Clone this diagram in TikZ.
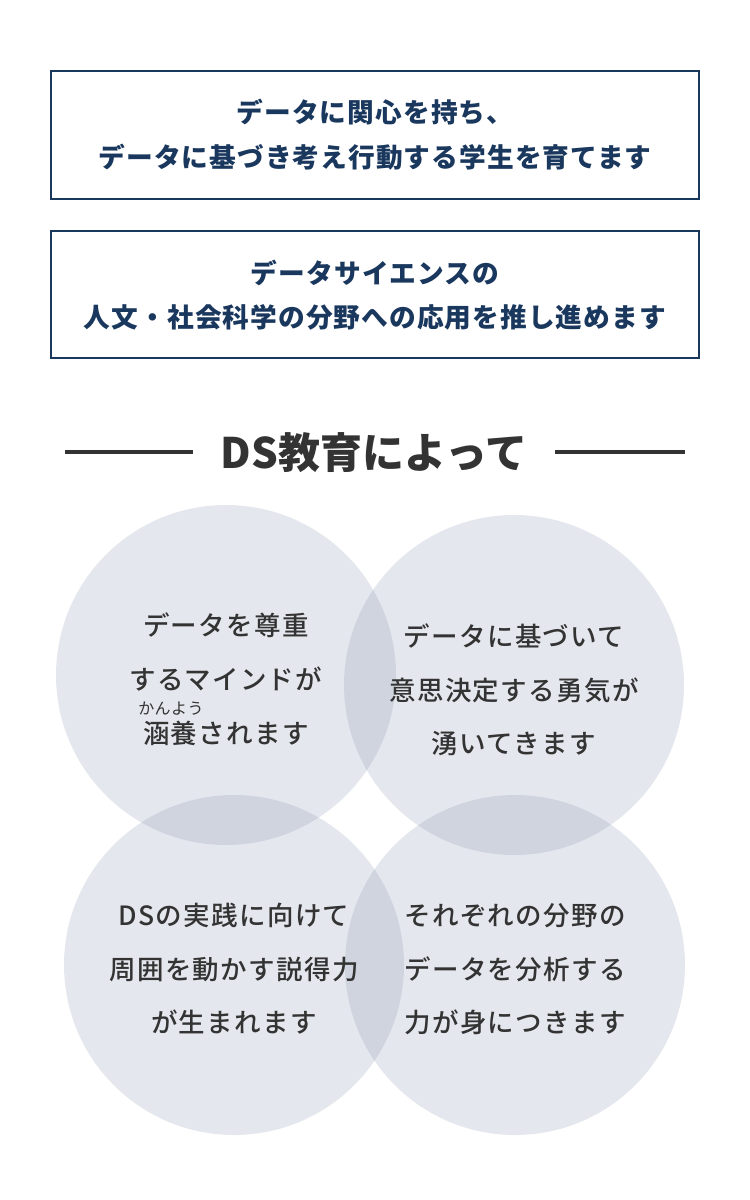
\documentclass[tikz,border=0pt]{standalone}
\usepackage{fontspec}
\usepackage{xcolor}
\usepackage{tikz}
\usetikzlibrary{positioning,calc}
\newfontfamily\jpfont{Noto Sans CJK JP}
\newfontfamily\jpspaced[LetterSpace=4]{Noto Sans CJK JP}
\newfontfamily\jpmedium[LetterSpace=5,UprightFont={* Medium}]{Noto Sans CJK JP}
\newfontfamily\rubyfont[LetterSpace=3]{Noto Sans CJK JP}
\definecolor{dsnavy}{RGB}{26,56,94}
\definecolor{dstext}{RGB}{51,51,51}
\definecolor{dsbubble}{RGB}{113,129,160}

\begin{document}
\begin{tikzpicture}[x=1pt,y=-1pt,
    msgbox/.style={draw=dsnavy,line width=2.2pt},
    msgtext/.style={text=dsnavy,inner sep=0pt,text height=23.5pt,text depth=3.2pt,
      font=\jpspaced\bfseries\fontsize{26.7pt}{30pt}\selectfont},
    headtext/.style={text=dstext,inner sep=0pt,text height=37pt,text depth=5pt,
      font=\jpfont\bfseries\fontsize{42pt}{48pt}\selectfont},
    headrule/.style={draw=dstext,line width=3.5pt},
    bubble/.style={circle,fill=dsbubble,fill opacity=0.19,minimum size=340pt,inner sep=0pt},
    bubbletext/.style={text=dstext,inner sep=0pt,text height=23.3pt,text depth=3.2pt,
      font=\jpmedium\fontsize{26.5pt}{30pt}\selectfont},
    rubytext/.style={text=dstext,inner sep=0pt,text height=14pt,text depth=2pt,
      font=\rubyfont\fontsize{16pt}{18pt}\selectfont}]
    \useasboundingbox (0,0) rectangle (750,1200);

    % Message boxes
    \draw[msgbox] (51,71) rectangle (699,199);
    \node[msgtext] (m1a) at (375,112) {データに関心を持ち、};
    \node[msgtext] (m1b) at (375,157) {データに基づき考え行動する学生を育てます};
    \draw[msgbox] (51,231) rectangle (699,358);
    \node[msgtext] (m2a) at (375,273) {データサイエンスの};
    \node[msgtext] (m2b) at (375,317) {人文・社会科学の分野への応用を推し進めます};

    % Heading
    \node[headtext] (head) at (374,452) {DS教育によって};
    \draw[headrule] (65,452) -- (193,452);
    \draw[headrule] (555,452) -- (685,452);

    % Bubbles
    \node[bubble] (b1) at (226,675) {};
    \node[bubble] (b2) at (514,685) {};
    \node[bubble] (b3) at (234,965) {};
    \node[bubble] (b4) at (515,965) {};

    % Bubble texts
    \node[bubbletext] (b1a) at (226,625) {データを尊重};
    \node[bubbletext] (b1b) at (226,679) {するマインドが};
    \node[bubbletext] (b1c) at (226,733) {涵養されます};
    \node[rubytext] (b1r) at ($(b1c.west)+(28,-25)$) {かんよう};

    \node[bubbletext] (b2a) at (514,636) {データに基づいて};
    \node[bubbletext] (b2b) at (514,690) {意思決定する勇気が};
    \node[bubbletext] (b2c) at (514,743) {湧いてきます};

    \node[bubbletext] (b3a) at (234,915) {DSの実践に向けて};
    \node[bubbletext] (b3b) at (234,969) {周囲を動かす説得力};
    \node[bubbletext] (b3c) at (234,1022) {が生まれます};

    \node[bubbletext] (b4a) at (515,915) {それぞれの分野の};
    \node[bubbletext] (b4b) at (515,969) {データを分析する};
    \node[bubbletext] (b4c) at (515,1022) {力が身につきます};
\end{tikzpicture}
\end{document}
